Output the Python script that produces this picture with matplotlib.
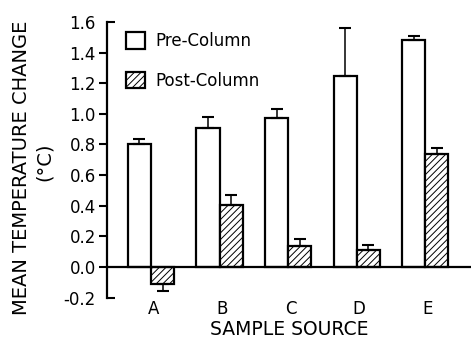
import matplotlib
matplotlib.use("Agg")
import matplotlib.pyplot as plt
import numpy as np

# sample sources and mean temperature change (deg C)
sources = ["A", "B", "C", "D", "E"]
pre_mean = [0.80, 0.91, 0.97, 1.25, 1.48]
pre_err = [0.035, 0.07, 0.06, 0.31, 0.03]
post_mean = [-0.11, 0.405, 0.14, 0.11, 0.74]
post_err = [0.045, 0.065, 0.04, 0.035, 0.04]

plt.rcParams["font.family"] = "DejaVu Sans"
plt.rcParams["hatch.linewidth"] = 0.7

fig = plt.figure(figsize=(4.71, 3.40), dpi=100)
ax = fig.add_axes([107 / 471, 42.4 / 340, 1 - 107 / 471, (318 - 42.4) / 340])

x = np.arange(len(sources))
w = 0.336

# error bars only on the side away from zero
pre_yerr = [np.zeros(len(pre_err)), pre_err]
post_lo = [e if m < 0 else 0 for m, e in zip(post_mean, post_err)]
post_hi = [e if m >= 0 else 0 for m, e in zip(post_mean, post_err)]

ax.bar(x - w / 2, pre_mean, w, color="white", edgecolor="black", linewidth=1.6,
       yerr=pre_yerr, error_kw=dict(ecolor="black", elinewidth=1.1, capsize=4, capthick=1.5),
       label="Pre-Column", zorder=2)
ax.bar(x + w / 2, post_mean, w, color="white", edgecolor="black", linewidth=1.6,
       hatch="/////", yerr=[post_lo, post_hi],
       error_kw=dict(ecolor="black", elinewidth=1.1, capsize=4, capthick=1.5),
       label="Post-Column", zorder=2)

ax.axhline(0, color="black", linewidth=1.6, zorder=3)

ax.set_xlim(-0.642, 4.67)
ax.set_ylim(-0.2, 1.6)

for s in ["top", "right", "bottom"]:
    ax.spines[s].set_visible(False)
ax.spines["left"].set_linewidth(1.6)

# inner ticks point outwards, end ticks point inwards like brackets
ax.set_yticks(np.arange(0.0, 1.41, 0.2), ["0.0", "0.2", "0.4", "0.6", "0.8", "1.0", "1.2", "1.4"])
ax.set_yticks([-0.2, 1.6], ["-0.2", "1.6"], minor=True)
ax.tick_params(axis="y", which="major", direction="out", length=6, width=1.5, labelsize=12, pad=2)
ax.tick_params(axis="y", which="minor", direction="in", length=6, width=1.5, labelsize=12, pad=8)

ax.set_xticks(x + 0.04, sources)
ax.tick_params(axis="x", length=0, labelsize=12, pad=2)

ax.set_xlabel("SAMPLE SOURCE", fontsize=13.5, labelpad=1)
fig.text(22 / 471, 1 - 168 / 340, "MEAN TEMPERATURE CHANGE", rotation=90,
         ha="center", va="center", fontsize=14)
fig.text(44 / 471, 1 - 162 / 340, "(°C)", rotation=90,
         ha="center", va="center", fontsize=14)

ax.legend(loc="upper left", bbox_to_anchor=(0.025, 1.0), frameon=False, fontsize=12,
          handlelength=1.15, handleheight=1.15, handletextpad=0.6, labelspacing=1.3,
          borderaxespad=0.2)

fig.savefig("out.png", dpi=100)
